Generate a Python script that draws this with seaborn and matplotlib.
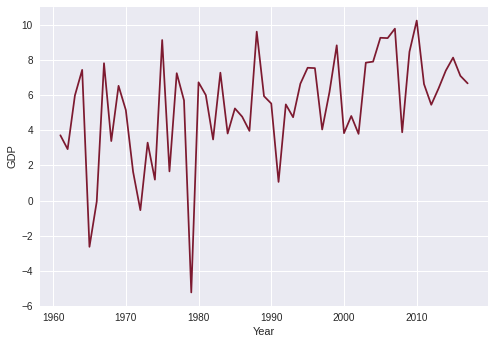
import matplotlib
matplotlib.use("Agg")
import matplotlib.pyplot as plt
import seaborn as sns
import pandas as pd

years = list(range(1961, 2018))
gdp = [3.72, 2.93, 5.99, 7.45, -2.64, -0.06, 7.83, 3.39, 6.54, 5.16,
       1.64, -0.55, 3.30, 1.19, 9.15, 1.66, 7.26, 5.71, -5.24, 6.74,
       6.01, 3.48, 7.29, 3.82, 5.25, 4.78, 3.97, 9.63, 5.95, 5.53,
       1.06, 5.48, 4.75, 6.66, 7.57, 7.55, 4.05, 6.18, 8.85, 3.84,
       4.82, 3.80, 7.86, 7.92, 9.28, 9.26, 9.80, 3.89, 8.48, 10.26,
       6.64, 5.46, 6.39, 7.41, 8.15, 7.11, 6.68]

df = pd.DataFrame({"Year": years, "GDP": gdp})

plt.style.use("seaborn-v0_8")
plt.rcParams["font.family"] = ["Liberation Sans", "DejaVu Sans"]
fig = plt.figure(figsize=(493 / 72, 344 / 72), dpi=72)
ax = fig.add_axes([40 / 493, 1 - 306 / 344, 448 / 493, 299 / 344])
sns.lineplot(data=df, x="Year", y="GDP", color="#7d1a30", ax=ax)
fig.savefig("out.png")
